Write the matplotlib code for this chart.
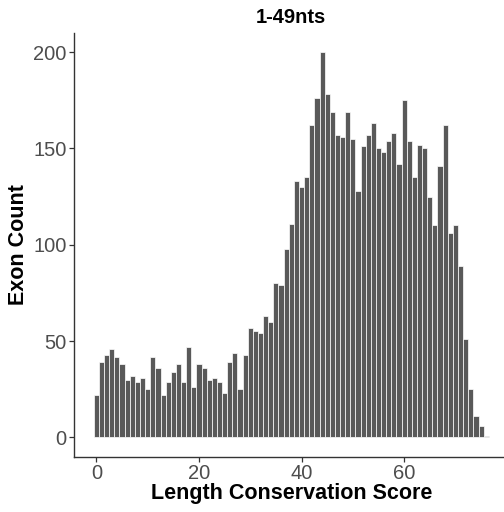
import matplotlib
matplotlib.use("Agg")
import matplotlib.pyplot as plt
import numpy as np

# Length conservation score bins (0..76) and exon counts
scores = np.arange(0, 77)
counts = [
    22, 39, 43, 46, 42, 38, 30, 32, 29, 31,
    25, 42, 36, 22, 29, 34, 38, 29, 47, 26,
    38, 36, 30, 31, 29, 23, 39, 44, 25, 43,
    57, 55, 54, 63, 60, 80, 79, 98, 111, 133,
    130, 135, 162, 176, 200, 178, 169, 157, 156, 169,
    155, 128, 151, 157, 163, 150, 148, 154, 158, 142,
    175, 154, 135, 152, 150, 125, 110, 141, 162, 106,
    110, 89, 51, 25, 11, 6, 1,
]
x_ticks = [0, 20, 40, 60]
y_ticks = [0, 50, 100, 150, 200]

plt.rcParams["font.family"] = ["Liberation Sans", "DejaVu Sans"]

fig = plt.figure(figsize=(5.04, 5.12), dpi=100)
ax = fig.add_axes([0.147, 0.108, 0.862, 0.828])

ax.bar(scores, counts, width=1.0, color="#595959", edgecolor="white", linewidth=0.5)

ax.set_xlim(-4.35, 80.35)
ax.set_ylim(-10, 210)
ax.set_xticks(x_ticks)
ax.set_yticks(y_ticks)

for side in ["top", "right"]:
    ax.spines[side].set_visible(False)
for side in ["left", "bottom"]:
    ax.spines[side].set_color("#333333")
    ax.spines[side].set_linewidth(1.0)

ax.tick_params(axis="both", colors="#333333", labelcolor="#4d4d4d", labelsize=14.5, length=3.5, width=0.9, pad=2)

ax.set_xlabel("Length Conservation Score", fontsize=15.5, fontweight="bold", labelpad=0)
ax.set_ylabel("Exon Count", fontsize=15.5, fontweight="bold", labelpad=3)
ax.set_title("1-49nts", fontsize=14.5, fontweight="bold", pad=7)

fig.savefig("out.png", dpi=100)
